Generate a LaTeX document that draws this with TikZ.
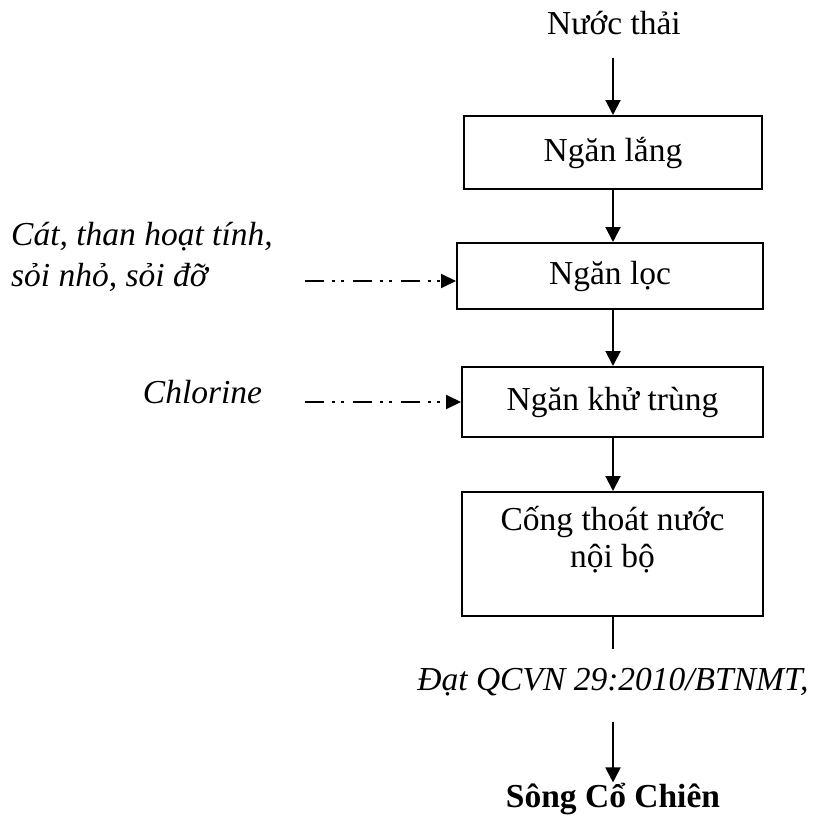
\documentclass[tikz,border=0pt]{standalone}
\usepackage{fontspec}
\setmainfont{Liberation Serif}
\usetikzlibrary{arrows.meta,calc}
\begin{document}
\begin{tikzpicture}[x=1pt,y=-1pt,
  every node/.style={font=\fontsize{33.5}{36}\selectfont, inner sep=0pt},
  boxst/.style={draw, line width=2pt, rectangle},
  arr/.style={line width=2pt, -{Triangle[length=15pt,width=15pt]}},
  dasharr/.style={line width=2pt, dash pattern=on 19pt off 8pt on 3pt off 6pt on 3pt off 9pt, -{Triangle[length=15pt,width=14pt]}},
  plain/.style={line width=2pt}]
\useasboundingbox (0,0) rectangle (812,816);
\node[anchor=base] (src) at (614,35) {Nước thải};
\coordinate (a0) at (613,58);
\node[boxst, minimum width=298pt, minimum height=73pt] (b1) at (613,152.5) {Ngăn lắng};
\node[boxst, minimum width=306pt, minimum height=66pt] (b2) at (610,276) {Ngăn lọc};
\node[boxst, minimum width=301pt, minimum height=70pt] (b3) at (612.5,402) {Ngăn khử trùng};
\node[boxst, minimum width=301pt, minimum height=124pt] (b4) at (612.5,554) {};
\node[anchor=north, align=center, font=\fontsize{33.5}{37}\selectfont] (t4) at (612.5,506) {Cống thoát nước\\nội bộ};
\draw[arr] (a0) -- (a0 |- b1.north);
\draw[arr] (a0 |- b1.south) -- (a0 |- b2.north);
\draw[arr] (a0 |- b2.south) -- (a0 |- b3.north);
\draw[arr] (a0 |- b3.south) -- (a0 |- b4.north);
\coordinate (e1) at (613,649);
\draw[plain] (a0 |- b4.south) -- (e1);
\node[anchor=base, font=\fontsize{33.5}{36}\itshape] (q) at (613,690) {Đạt QCVN 29:2010/BTNMT,};
\coordinate (a5) at (613,722);
\node[anchor=base, font=\fontsize{33.5}{36}\bfseries] (out) at (613,807) {Sông Cổ Chiên};
\draw[arr] (a5) -- (out.north);
\node[anchor=north west, align=left, font=\fontsize{33.5}{41}\itshape] (m1) at (11,222) {Cát, than hoạt tính,\\sỏi nhỏ, sỏi đỡ};
\node[anchor=base, font=\fontsize{33.5}{36}\itshape] (m2) at (202.5,403) {Chlorine};
\coordinate (c1) at (305,281);
\coordinate (c2) at (305,402);
\draw[dasharr] (c1) -- (c1 -| b2.west);
\draw[dasharr] (c2) -- (c2 -| b3.west);
\end{tikzpicture}
\end{document}
